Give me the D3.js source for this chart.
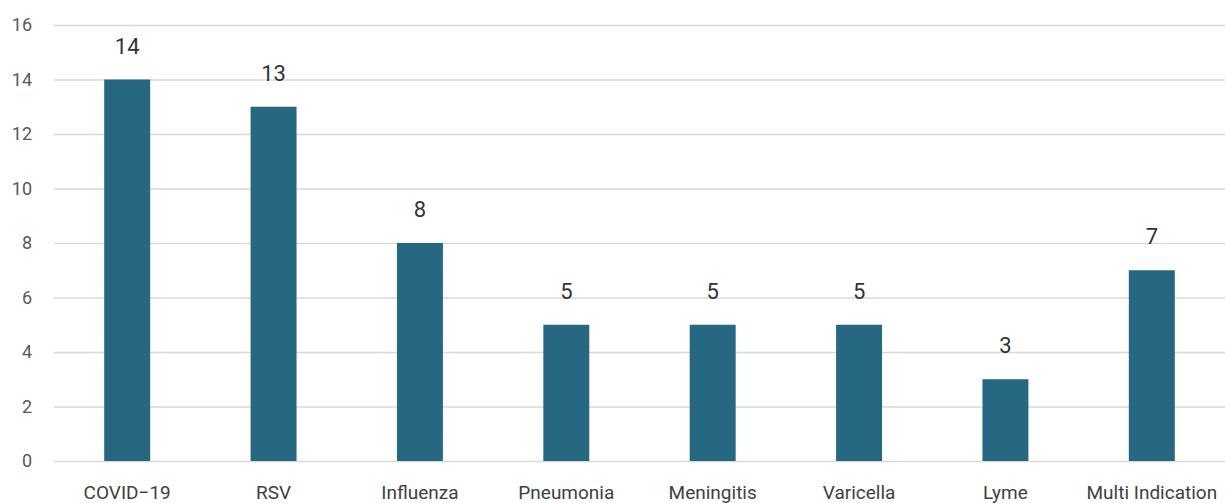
<!DOCTYPE html>
<html>
<head>
<meta charset="utf-8">
<script src="https://cdn.jsdelivr.net/npm/d3@7"></script>
<style>
  html, body { margin: 0; padding: 0; background: #fff; }
  svg { display: block; }
</style>
</head>
<body>
<svg id="chart" width="1225" height="503"></svg>
<script>
// Vaccine candidates by indication
const categories = ["COVID\u221219", "RSV", "Influenza", "Pneumonia", "Meningitis", "Varicella", "Lyme", "Multi Indication"];
const counts = [14, 13, 8, 5, 5, 5, 3, 7];
const yTicks = [0, 2, 4, 6, 8, 10, 12, 14, 16];

const svg = d3.select("#chart");
const W = 1225, H = 503;
const margin = { left: 54, right: 0, top: 25, bottom: 42 };

const x = d3.scaleBand()
  .domain(categories)
  .range([margin.left, W - margin.right])
  .paddingInner(0.686)
  .paddingOuter(0.343);

const y = d3.scaleLinear()
  .domain([0, 16])
  .range([H - margin.bottom, margin.top]);

const font = "Roboto, 'Noto Sans', sans-serif";

// horizontal gridlines + y tick labels
const yAxis = d3.axisLeft(y)
  .tickValues(yTicks)
  .tickSize(-(W - margin.left - margin.right))
  .tickPadding(22);

const gy = svg.append("g")
  .attr("transform", `translate(${margin.left},0)`)
  .call(yAxis);
gy.select(".domain").remove();
gy.selectAll(".tick line").attr("stroke", "#d9d9d9").attr("stroke-width", 1.5);
gy.selectAll(".tick text")
  .attr("fill", "#595959")
  .style("font-family", font)
  .style("font-size", "18px");

// bars
svg.append("g").selectAll("rect")
  .data(counts)
  .join("rect")
  .attr("x", (d, i) => x(categories[i]))
  .attr("y", d => y(d))
  .attr("width", x.bandwidth())
  .attr("height", d => y(0) - y(d))
  .attr("fill", "#266782");

// value labels
svg.append("g").selectAll("text")
  .data(counts)
  .join("text")
  .attr("x", (d, i) => x(categories[i]) + x.bandwidth() / 2)
  .attr("y", d => y(d) - 26)
  .attr("text-anchor", "middle")
  .attr("fill", "#333333")
  .style("font-family", font)
  .style("font-size", "22px")
  .text(d => d);

// category axis
const xAxis = d3.axisBottom(x).tickSize(0).tickPadding(25);
const gx = svg.append("g")
  .attr("transform", `translate(0,${y(0)})`)
  .call(xAxis);
gx.select(".domain").remove();
gx.selectAll(".tick text")
  .attr("fill", "#404040")
  .style("font-family", font)
  .style("font-size", "19px");
</script>
</body>
</html>
